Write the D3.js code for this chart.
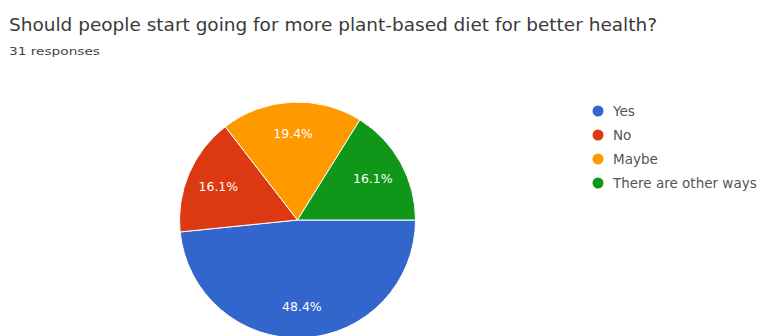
<!DOCTYPE html>
<html><head><meta charset="utf-8">
<script src="https://cdn.jsdelivr.net/npm/d3@7"></script>
<style>html,body{margin:0;padding:0;background:#fff;}svg{display:block;}</style>
</head><body>
<svg id="chart" width="762" height="336"></svg>
<script>
const title = "Should people start going for more plant-based diet for better health?";
const subtitle = "31 responses";
const categories = ["Yes", "No", "Maybe", "There are other ways"];
const counts = [15, 5, 6, 5];
const percentLabels = ["48.4%", "16.1%", "19.4%", "16.1%"];
const colors = ["#3366cc", "#dc3912", "#ff9900", "#109618"];

const svg = d3.select("#chart");
const font = "'DejaVu Sans', sans-serif";

svg.append("text").attr("x", 9).attr("y", 31)
  .attr("font-family", font).attr("font-size", 17).attr("fill", "#3a3a3a")
  .attr("textLength", 648).attr("lengthAdjust", "spacingAndGlyphs")
  .text(title);
svg.append("text").attr("x", 9).attr("y", 55)
  .attr("font-family", font).attr("font-size", 11).attr("fill", "#444")
  .attr("textLength", 91).attr("lengthAdjust", "spacingAndGlyphs")
  .text(subtitle);

const cx = 297.5, cy = 220, r = 118;
const color = d3.scaleOrdinal().domain(categories).range(colors);
const pie = d3.pie().sort(null).startAngle(Math.PI / 2).endAngle(Math.PI / 2 + 2 * Math.PI);
const arcs = pie(counts);
const arc = d3.arc().innerRadius(0).outerRadius(r);
const labelArc = d3.arc().innerRadius(r * 0.73).outerRadius(r * 0.73);

const g = svg.append("g").attr("transform", `translate(${cx},${cy})`);
g.selectAll("path").data(arcs).join("path")
  .attr("d", arc)
  .attr("fill", (d, i) => color(categories[i]))
  .attr("stroke", "#fff").attr("stroke-width", 1);
g.selectAll("text").data(arcs).join("text")
  .attr("transform", d => `translate(${labelArc.centroid(d)})`)
  .attr("text-anchor", "middle").attr("dy", "0.36em")
  .attr("font-family", font).attr("font-size", 12.5).attr("fill", "#fff")
  .text((d, i) => percentLabels[i]);

const legend = svg.append("g");
const ly = d3.scalePoint().domain(categories).range([111, 183]);
const items = legend.selectAll("g").data(categories).join("g")
  .attr("transform", d => `translate(598,${ly(d)})`);
items.append("circle").attr("r", 5.5).attr("fill", d => color(d));
items.append("text").attr("x", 15).attr("dy", "0.36em")
  .attr("font-family", font).attr("font-size", 13.5).attr("fill", "#555")
  .text(d => d);
</script>
</body></html>
